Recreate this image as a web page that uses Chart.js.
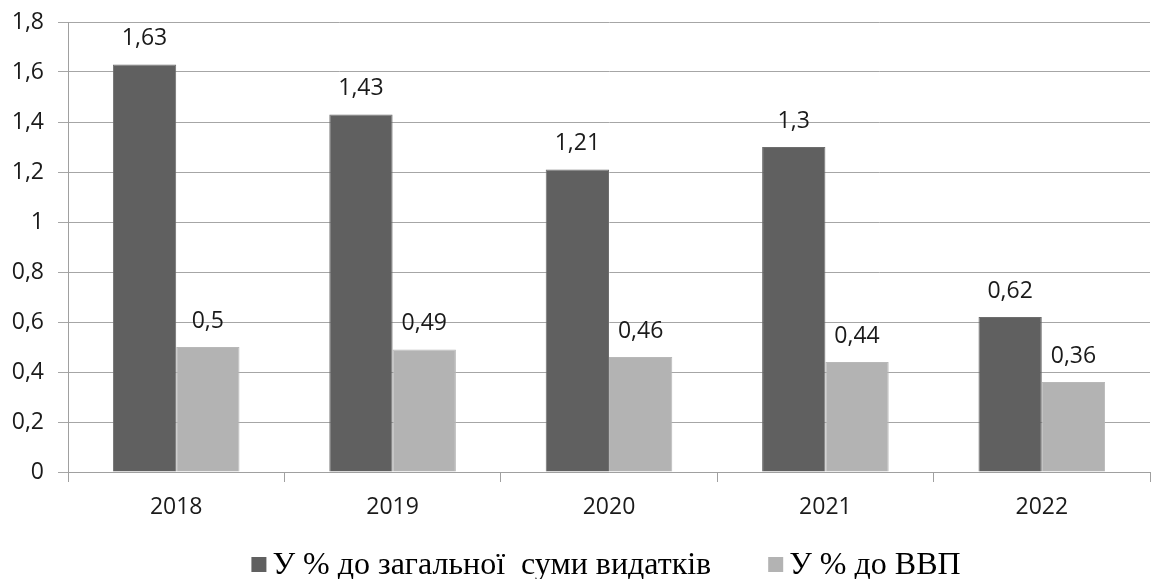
<!DOCTYPE html>
<html>
<head>
<meta charset="utf-8">
<script src="https://cdn.jsdelivr.net/npm/chart.js@4.4.1/dist/chart.umd.min.js"></script>
<style>
  html, body { margin: 0; padding: 0; background: #fff; }
  #wrap { width: 1170px; height: 579px; }
</style>
</head>
<body>
<div id="wrap"><canvas id="chart"></canvas></div>
<script>
const years = ['2018', '2019', '2020', '2021', '2022'];
const shareOfSpending = [1.63, 1.43, 1.21, 1.3, 0.62];
const shareOfGdp = [0.5, 0.49, 0.46, 0.44, 0.36];
const seriesNames = ['У % до загальної  суми видатків', 'У % до ВВП'];

function formatComma(value) {
    return String(value).replace('.', ',');
}

const valueLabels = {
    id: 'valueLabels',
    afterDatasetsDraw(chart) {
        const ctx = chart.ctx;
        ctx.save();
        ctx.font = '23px "Open Sans", sans-serif';
        ctx.fillStyle = '#1a1a1a';
        ctx.textAlign = 'center';
        ctx.textBaseline = 'middle';
        chart.data.datasets.forEach((ds, i) => {
            chart.getDatasetMeta(i).data.forEach((bar, j) => {
                ctx.fillText(formatComma(ds.data[j]), bar.x, bar.y - 26);
            });
        });
        ctx.restore();
    },
};

// legend in the Word style: small square, tight gap, serif text
const bottomLegend = {
    id: 'bottomLegend',
    afterDraw(chart) {
        const ctx = chart.ctx;
        const sets = chart.data.datasets;
        ctx.save();
        ctx.font = '32px "Liberation Serif", "Times New Roman", serif';
        ctx.textBaseline = 'alphabetic';
        const box = 15, textGap = 6, itemGap = 57;
        const widths = sets.map(ds => ctx.measureText(ds.label).width);
        let total = widths.reduce((a, w) => a + box + textGap + w, 0) + itemGap * (sets.length - 1);
        let x = 606 - total / 2;
        sets.forEach((ds, i) => {
            ctx.fillStyle = ds.backgroundColor;
            ctx.fillRect(x, 557, box, box);
            ctx.fillStyle = '#000';
            ctx.fillText(ds.label, x + box + textGap, 574);
            x += box + textGap + widths[i] + itemGap;
        });
        ctx.restore();
    },
};

new Chart(document.getElementById('chart'), {
    type: 'bar',
    data: {
        labels: years,
        datasets: [
            {
                label: seriesNames[0],
                data: shareOfSpending,
                backgroundColor: '#606060',
                borderColor: '#6e6e6e',
                borderWidth: 1,
            },
            {
                label: seriesNames[1],
                data: shareOfGdp,
                backgroundColor: '#b3b3b3',
                borderColor: '#b8b8b8',
                borderWidth: 1,
            },
        ],
    },
    options: {
        responsive: true,
        maintainAspectRatio: false,
        animation: false,
        categoryPercentage: 0.585,
        barPercentage: 1,
        layout: { padding: { top: 22, right: 20, left: 0, bottom: 59 } },
        plugins: {
            tooltip: { enabled: false },
            legend: { display: false },
        },
        scales: {
            x: {
                offset: true,
                grid: {
                    drawOnChartArea: false,
                    offset: true,
                    color: '#a0a0a0',
                    tickLength: 10,
                },
                border: { color: '#a0a0a0' },
                ticks: {
                    color: '#1a1a1a',
                    font: { family: '"Open Sans", sans-serif', size: 23 },
                    padding: 12,
                },
                afterFit(scale) { scale.height = 48; },
            },
            y: {
                min: 0,
                max: 1.8,
                grid: {
                    color: '#a6a6a6',
                    tickLength: 10,
                },
                border: { color: '#a0a0a0' },
                ticks: {
                    stepSize: 0.2,
                    color: '#1a1a1a',
                    // small line height keeps the top label from pushing the plot down
                    font: { family: '"Open Sans", sans-serif', size: 23, lineHeight: 0.6 },
                    padding: 14,
                    callback(value) {
                        return formatComma(Math.round(value * 10) / 10);
                    },
                },
                afterFit(scale) { scale.width = 68; },
            },
        },
    },
    plugins: [valueLabels, bottomLegend],
});
</script>
</body>
</html>
